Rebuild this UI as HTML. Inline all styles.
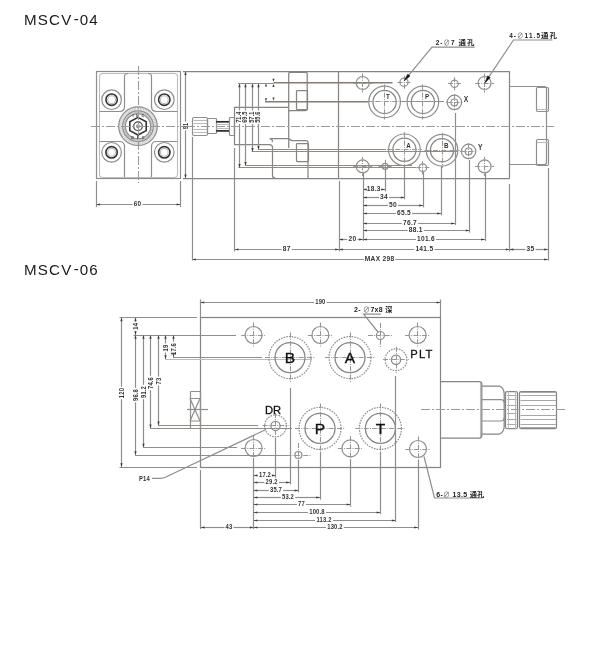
<!DOCTYPE html>
<html lang="zh"><head><meta charset="utf-8"><title>MSCV-04 / MSCV-06</title>
<style>
html,body{margin:0;padding:0;background:#fff}
body{width:600px;height:652px;overflow:hidden}
svg{display:block;position:absolute;left:0;top:0;will-change:transform;opacity:.999}
path,rect,circle{fill:none;stroke:#858585;stroke-width:1.25}
.t{stroke:#8e8e8e;stroke-width:1.2}
.f{stroke:#bcbcbc;stroke-width:1.1}
.g{stroke:#a8a8a8;stroke-width:1}
.c{stroke:#969696;stroke-width:1.1;stroke-dasharray:5 1.2 1 1.2}
.cl{stroke:#9c9c9c;stroke-width:1.1;stroke-dasharray:9 2 2 2}
.b{stroke:#877c75;stroke-width:1.6}
.b2{stroke:#938a84;stroke-width:1.2}
.k{stroke:#333;stroke-width:1.6}
.k2{stroke:#444;stroke-width:1.2}
.kn{stroke:#ececec;stroke-width:6.6}
.kn2{stroke:#b8b8b8;stroke-width:4;stroke-dasharray:.5 1.1}
.kk{stroke:#2a2a2a;stroke-width:1.7}
.ds{stroke:#8c8c8c;stroke-width:1.2;stroke-dasharray:1.6 1.1}
.a{fill:#3a3a3a;stroke:none}
.ah{fill:#111;stroke:#111;stroke-width:.5}
text{font-family:"Liberation Sans","Noto Sans CJK SC",sans-serif;fill:#222}
.ttl{font-size:14.3px;letter-spacing:1.1px;fill:#1a1a1a}
.d{font-size:7px;letter-spacing:.2px;fill:#333;font-weight:bold}
.d2{font-size:6.6px;letter-spacing:.3px;fill:#333;font-weight:bold}
.d3{font-size:7px;letter-spacing:.2px;fill:#333;font-weight:bold}
.dv{font-size:6.8px;font-weight:bold;fill:#333;letter-spacing:.1px}
.tiny{font-size:3.8px;letter-spacing:2.6px;fill:#333;font-weight:bold}
.pl{font-size:7.8px;fill:#333;font-weight:bold}
.pl2{font-size:8.4px;fill:#333;font-weight:bold}
.big{font-size:15.5px;fill:#111;stroke:#111;stroke-width:.35px}
.mid{font-size:11.2px;fill:#111;stroke:#111;stroke-width:.3px}
.lb{font-size:6.4px;font-weight:bold;letter-spacing:1.1px;fill:#222}
.cj{font-size:7.4px;letter-spacing:.9px}
.lb2{font-size:7px;letter-spacing:.3px;fill:#222;font-weight:bold}
.lb2 .cj{font-size:7.2px;letter-spacing:.2px}
.ph{font-weight:normal;fill:#666}
</style></head>
<body>
<svg width="600" height="652" viewBox="0 0 600 652">
<rect x="0" y="0" width="600" height="652" style="fill:#fff;stroke:none"/>
<text class="ttl" transform="translate(24 24.8) scale(1.06 1)">MSCV<tspan dx="1.3" dy="-1.3">-</tspan><tspan dx="-0.3" dy="1.3">04</tspan></text>
<text class="ttl" transform="translate(24 274.9) scale(1.06 1)">MSCV<tspan dx="1.3" dy="-1.3">-</tspan><tspan dx="-0.3" dy="1.3">06</tspan></text>
<rect class="t" x="96.5" y="71.5" width="84.0" height="107.0" rx="0"/>
<rect class="f" x="99.5" y="73.5" width="78.0" height="104.0" rx="3.5"/>
<path class="t" d="M99.5 111.5H119.5Q124.5 111.5 124.5 106.5V76.5Q124.5 73.5 128 73.5M99.5 141.5H119.5Q124.5 141.5 124.5 146.5V177"/>
<path class="t" d="M177.5 111.5H156.5Q151.5 111.5 151.5 106.5V76.5Q151.5 73.5 148 73.5M177.5 141.5H156.5Q151.5 141.5 151.5 146.5V177"/>
<circle class="t" cx="111.6" cy="99.7" r="9.8"/>
<circle class="k" cx="111.6" cy="99.7" r="5.7"/>
<circle class="f" cx="111.6" cy="99.7" r="3.9"/>
<circle class="t" cx="111.6" cy="152.3" r="9.8"/>
<circle class="k" cx="111.6" cy="152.3" r="5.7"/>
<circle class="f" cx="111.6" cy="152.3" r="3.9"/>
<circle class="t" cx="164.3" cy="99.7" r="9.8"/>
<circle class="k" cx="164.3" cy="99.7" r="5.7"/>
<circle class="f" cx="164.3" cy="99.7" r="3.9"/>
<circle class="t" cx="164.3" cy="152.3" r="9.8"/>
<circle class="k" cx="164.3" cy="152.3" r="5.7"/>
<circle class="f" cx="164.3" cy="152.3" r="3.9"/>
<circle class="kn" cx="138.0" cy="126.2" r="16.0"/>
<circle class="kn2" cx="138.0" cy="126.2" r="17.3"/>
<circle class="t" cx="138.0" cy="126.2" r="19.3"/>
<circle class="t" cx="138.0" cy="126.2" r="15.3"/>
<circle class="f" cx="138.0" cy="126.2" r="13.9"/>
<circle class="t" cx="138.0" cy="126.2" r="12.6"/>
<path class="k" d="M138.0 117.4L146.2 121.8V130.6L138.0 135.0L129.8 130.6V121.8Z"/>
<circle class="k2" cx="138.0" cy="126.2" r="4.3"/>
<circle class="t" cx="138.0" cy="126.2" r="1.4"/>
<text class="tiny" transform="translate(139.60 116.60)" text-anchor="middle">INC</text>
<text class="tiny" transform="translate(139.20 139.10)" text-anchor="middle">DEC</text>
<path class="cl" d="M91.0 126.5L185.0 126.5"/>
<path class="cl" d="M138.5 66.0L138.5 183.0"/>
<path class="t" d="M96.5 181.0L96.5 207.0"/>
<path class="t" d="M180.5 181.0L180.5 207.0"/>
<path class="t" d="M96.2 204.5L132.6 204.5"/>
<path class="t" d="M142.4 204.5L180.4 204.5"/>
<path class="a" d="M96.2 204.5L100.0 203.4L100.0 205.6Z"/>
<path class="a" d="M180.4 204.5L176.6 205.6L176.6 203.4Z"/>
<text class="d" transform="translate(137.50 206.21) scale(0.92 1)" text-anchor="middle">60</text>
<path class="t" d="M185.5 71.2L185.5 121.7"/>
<path class="t" d="M185.5 130.3L185.5 178.2"/>
<path class="a" d="M185.5 71.2L186.6 75.0L184.4 75.0Z"/>
<path class="a" d="M185.5 178.2L184.4 174.4L186.6 174.4Z"/>
<text class="dv" transform="translate(187.73 126.00) rotate(-90) scale(0.83 1)" text-anchor="middle">91</text>
<path class="l" d="M183.0 71.5L509.7 71.5"/>
<path class="l" d="M183.0 178.5L509.7 178.5"/>
<rect class="t" x="192.5" y="117.5" width="15.0" height="18.0" rx="1.5"/>
<path class="f" d="M193.5 120.5L207.0 120.5"/>
<path class="f" d="M193.5 123.5L207.0 123.5"/>
<path class="f" d="M193.5 129.5L207.0 129.5"/>
<path class="f" d="M193.5 132.5L207.0 132.5"/>
<rect class="t" x="207.5" y="118.5" width="9.0" height="15.0" rx="0.8"/>
<path class="kk" d="M216.2 121.8L229.2 121.8"/>
<path class="kk" d="M216.2 130.9L229.2 130.9"/>
<path class="f" d="M216.2 124.5L229.2 124.5"/>
<path class="f" d="M216.2 128.5L229.2 128.5"/>
<rect class="t" x="229.5" y="117.5" width="5.0" height="18.0" rx="0.8"/>
<path class="l" d="M288.6 107.3H234.5V144.5H269.5Q272.5 144.5 272.5 147.5V175.5Q272.5 178.2 275.5 178.2"/>
<path class="l" d="M288.7 148V73.5Q288.7 72.4 290 72.4H306Q307.2 72.4 307.2 73.5V109Q307.2 110.5 305.5 110.5H290.5Q288.7 110.5 288.7 112"/>
<rect class="l" x="296.5" y="90.5" width="11.0" height="19.0" rx="0.8"/>
<path class="l" d="M272.5 142Q272.5 138.5 269.5 138.5H288.5Q290.5 140.5 292.5 140.5H306Q308 140.5 308 142.5V178.2"/>
<rect class="l" x="296.5" y="143.5" width="12.0" height="18.0" rx="0.8"/>
<path class="l" d="M338.5 71.2L338.5 178.2"/>
<path class="l" d="M509.5 71.2L509.5 178.2"/>
<path class="t" d="M509.7 86.5H544.5Q546.5 86.5 546.5 88.5V162.5Q546.5 164.5 544.5 164.5H509.7"/>
<rect class="t" x="536.5" y="87.5" width="12.0" height="24.0" rx="1.2"/>
<path class="f" d="M536.8 109.5L548.6 109.5"/>
<rect class="t" x="536.5" y="139.5" width="12.0" height="26.0" rx="1.2"/>
<path class="f" d="M536.8 142.5L548.6 142.5"/>
<path class="cl" d="M186.0 126.5L554.0 126.5"/>
<path class="b" d="M273.4 82.7L392.5 82.7"/>
<path class="b" d="M265.0 101.7L368.0 101.7"/>
<path class="b2" d="M400.0 101.5L444.0 101.5"/>
<path class="b2" d="M258.6 149.5L386.0 149.5"/>
<path class="b2" d="M251.8 151.5L457.0 151.5"/>
<path class="b2" d="M245.8 165.5L412.0 165.5"/>
<path class="b2" d="M238.3 167.5L416.0 167.5"/>
<path class="t" d="M238.0 83.5L273.4 83.5"/>
<path class="t" d="M239.5 83.4L239.5 110.4"/>
<path class="t" d="M239.5 124.0L239.5 167.9"/>
<path class="a" d="M239.5 83.4L240.6 87.2L238.4 87.2Z"/>
<path class="a" d="M239.5 167.9L238.4 164.1L240.6 164.1Z"/>
<text class="dv" transform="translate(241.13 117.20) rotate(-90) scale(0.83 1)" text-anchor="middle">71.4</text>
<path class="t" d="M245.5 83.4L245.5 110.4"/>
<path class="t" d="M245.5 124.0L245.5 165.9"/>
<path class="a" d="M245.5 83.4L246.6 87.2L244.4 87.2Z"/>
<path class="a" d="M245.5 165.9L244.4 162.1L246.6 162.1Z"/>
<text class="dv" transform="translate(247.13 117.20) rotate(-90) scale(0.83 1)" text-anchor="middle">69.5</text>
<path class="t" d="M252.5 83.4L252.5 110.4"/>
<path class="t" d="M252.5 124.0L252.5 151.9"/>
<path class="a" d="M252.5 83.4L253.6 87.2L251.4 87.2Z"/>
<path class="a" d="M252.5 151.9L251.4 148.1L253.6 148.1Z"/>
<text class="dv" transform="translate(254.13 117.20) rotate(-90) scale(0.83 1)" text-anchor="middle">57.1</text>
<path class="t" d="M258.5 83.4L258.5 110.4"/>
<path class="t" d="M258.5 124.0L258.5 149.7"/>
<path class="a" d="M258.5 83.4L259.6 87.2L257.4 87.2Z"/>
<path class="a" d="M258.5 149.7L257.4 145.9L259.6 145.9Z"/>
<text class="dv" transform="translate(260.13 117.20) rotate(-90) scale(0.83 1)" text-anchor="middle">55.6</text>
<path class="a" d="M266.0 83.6L267.1 86.6L264.9 86.6Z"/>
<path class="a" d="M273.5 83.9L274.6 86.9L272.4 86.9Z"/>
<path class="a" d="M266.0 101.2L264.9 98.2L267.1 98.2Z"/>
<path class="a" d="M273.5 100.6L272.4 97.6L274.6 97.6Z"/>
<path class="a" d="M273.5 81.8L272.4 78.8L274.6 78.8Z"/>
<circle class="t" cx="362.7" cy="83.0" r="6.5"/>
<path class="c" d="M353.2 83.5L372.2 83.5"/>
<path class="c" d="M362.5 73.5L362.5 92.5"/>
<circle class="t" cx="484.6" cy="83.0" r="6.5"/>
<path class="c" d="M475.1 83.5L494.1 83.5"/>
<path class="c" d="M484.5 73.5L484.5 92.5"/>
<circle class="t" cx="362.7" cy="166.4" r="6.5"/>
<path class="c" d="M353.2 166.5L372.2 166.5"/>
<path class="c" d="M362.5 156.9L362.5 175.9"/>
<circle class="t" cx="484.6" cy="166.4" r="6.5"/>
<path class="c" d="M475.1 166.5L494.1 166.5"/>
<path class="c" d="M484.5 156.9L484.5 175.9"/>
<circle class="t" cx="384.6" cy="101.9" r="15.8"/>
<circle class="l" cx="384.6" cy="101.9" r="11.6"/>
<path class="c" d="M367.1 101.5L402.1 101.5"/>
<path class="c" d="M384.5 84.4L384.5 119.4"/>
<text class="pl" transform="translate(387.80 99.20) scale(0.8 1)" text-anchor="middle">T</text>
<circle class="t" cx="422.9" cy="101.9" r="15.8"/>
<circle class="l" cx="422.9" cy="101.9" r="11.6"/>
<path class="c" d="M405.4 101.5L440.4 101.5"/>
<path class="c" d="M422.5 84.4L422.5 119.4"/>
<text class="pl" transform="translate(427.10 99.20) scale(0.8 1)" text-anchor="middle">P</text>
<circle class="t" cx="404.4" cy="149.8" r="15.8"/>
<circle class="l" cx="404.4" cy="149.8" r="11.6"/>
<path class="c" d="M386.9 149.5L421.9 149.5"/>
<path class="c" d="M404.5 132.3L404.5 167.3"/>
<text class="pl" transform="translate(408.60 147.90) scale(0.8 1)" text-anchor="middle">A</text>
<circle class="t" cx="442.0" cy="150.2" r="15.8"/>
<circle class="l" cx="442.0" cy="150.2" r="11.6"/>
<path class="c" d="M424.5 150.5L459.5 150.5"/>
<path class="c" d="M442.5 132.7L442.5 167.7"/>
<text class="pl" transform="translate(446.20 148.30) scale(0.8 1)" text-anchor="middle">B</text>
<circle class="t" cx="454.4" cy="102.4" r="7.2"/>
<circle class="t" cx="454.4" cy="102.4" r="3.4"/>
<path class="c" d="M445.9 102.5L462.9 102.5"/>
<path class="c" d="M454.5 93.9L454.5 110.9"/>
<text class="pl2" transform="translate(466.00 101.80) scale(0.8 1)" text-anchor="middle">X</text>
<circle class="t" cx="468.6" cy="151.4" r="7.2"/>
<circle class="t" cx="468.6" cy="151.4" r="3.4"/>
<path class="c" d="M460.1 151.5L477.1 151.5"/>
<path class="c" d="M468.5 142.9L468.5 159.9"/>
<text class="pl2" transform="translate(480.20 149.80) scale(0.8 1)" text-anchor="middle">Y</text>
<circle class="t" cx="404.0" cy="82.2" r="4.1"/>
<path class="c" d="M397.5 82.5L410.5 82.5"/>
<path class="c" d="M404.5 75.7L404.5 88.7"/>
<circle class="t" cx="454.5" cy="83.8" r="3.7"/>
<path class="c" d="M448.0 83.5L461.0 83.5"/>
<path class="c" d="M454.5 77.3L454.5 90.3"/>
<circle class="t" cx="385.1" cy="166.3" r="3.0"/>
<path class="c" d="M378.6 166.5L391.6 166.5"/>
<path class="c" d="M385.5 159.8L385.5 172.8"/>
<circle class="t" cx="422.8" cy="167.7" r="3.8"/>
<path class="c" d="M416.3 167.5L429.3 167.5"/>
<path class="c" d="M422.5 161.2L422.5 174.2"/>
<path class="t" d="M363.5 172.0L363.5 241.0"/>
<path class="t" d="M385.5 170.0L385.5 191.4"/>
<path class="t" d="M363.0 189.5L365.7 189.5"/>
<path class="t" d="M381.9 189.5L385.0 189.5"/>
<path class="a" d="M363.0 189.5L366.8 188.4L366.8 190.6Z"/>
<path class="a" d="M385.0 189.5L381.2 190.6L381.2 188.4Z"/>
<text class="d2" transform="translate(373.80 191.06)" text-anchor="middle">18.3</text>
<path class="t" d="M404.5 165.0L404.5 199.2"/>
<path class="t" d="M363.0 197.5L378.9 197.5"/>
<path class="t" d="M389.1 197.5L404.6 197.5"/>
<path class="a" d="M363.0 197.5L366.8 196.4L366.8 198.6Z"/>
<path class="a" d="M404.6 197.5L400.8 198.6L400.8 196.4Z"/>
<text class="d2" transform="translate(384.00 199.06)" text-anchor="middle">34</text>
<path class="t" d="M423.5 172.0L423.5 207.4"/>
<path class="t" d="M363.0 205.5L387.9 205.5"/>
<path class="t" d="M398.1 205.5L423.0 205.5"/>
<path class="a" d="M363.0 205.5L366.8 204.4L366.8 206.6Z"/>
<path class="a" d="M423.0 205.5L419.2 206.6L419.2 204.4Z"/>
<text class="d2" transform="translate(393.00 207.06)" text-anchor="middle">50</text>
<path class="t" d="M441.5 166.0L441.5 215.4"/>
<path class="t" d="M363.0 213.5L395.9 213.5"/>
<path class="t" d="M412.1 213.5L441.0 213.5"/>
<path class="a" d="M363.0 213.5L366.8 212.4L366.8 214.6Z"/>
<path class="a" d="M441.0 213.5L437.2 214.6L437.2 212.4Z"/>
<text class="d2" transform="translate(404.00 215.06)" text-anchor="middle">65.5</text>
<path class="t" d="M455.5 113.0L455.5 225.0"/>
<path class="t" d="M363.0 223.5L401.9 223.5"/>
<path class="t" d="M418.1 223.5L455.0 223.5"/>
<path class="a" d="M363.0 223.5L366.8 222.4L366.8 224.6Z"/>
<path class="a" d="M455.0 223.5L451.2 224.6L451.2 222.4Z"/>
<text class="d2" transform="translate(410.00 225.06)" text-anchor="middle">76.7</text>
<path class="t" d="M469.5 160.0L469.5 232.6"/>
<path class="t" d="M363.0 230.5L407.7 230.5"/>
<path class="t" d="M423.9 230.5L469.6 230.5"/>
<path class="a" d="M363.0 230.5L366.8 229.4L366.8 231.6Z"/>
<path class="a" d="M469.6 230.5L465.8 231.6L465.8 229.4Z"/>
<text class="d2" transform="translate(415.80 232.06)" text-anchor="middle">88.1</text>
<path class="t" d="M485.5 173.0L485.5 241.0"/>
<path class="t" d="M363.0 239.5L415.9 239.5"/>
<path class="t" d="M436.1 239.5L485.0 239.5"/>
<path class="a" d="M363.0 239.5L366.8 238.4L366.8 240.6Z"/>
<path class="a" d="M485.0 239.5L481.2 240.6L481.2 238.4Z"/>
<text class="d2" transform="translate(426.00 241.06)" text-anchor="middle">101.6</text>
<path class="t" d="M339.5 181.0L339.5 251.5"/>
<path class="t" d="M339.0 239.5L347.3 239.5"/>
<path class="t" d="M357.5 239.5L363.0 239.5"/>
<path class="a" d="M339.0 239.5L342.8 238.4L342.8 240.6Z"/>
<path class="a" d="M363.0 239.5L359.2 240.6L359.2 238.4Z"/>
<text class="d2" transform="translate(352.40 241.06)" text-anchor="middle">20</text>
<path class="t" d="M339.0 249.5L414.3 249.5"/>
<path class="t" d="M434.5 249.5L509.6 249.5"/>
<path class="a" d="M339.0 249.5L342.8 248.4L342.8 250.6Z"/>
<path class="a" d="M509.6 249.5L505.8 250.6L505.8 248.4Z"/>
<text class="d2" transform="translate(424.40 251.06)" text-anchor="middle">141.5</text>
<path class="t" d="M509.6 249.5L525.3 249.5"/>
<path class="t" d="M535.5 249.5L548.0 249.5"/>
<path class="a" d="M509.6 249.5L513.4 248.4L513.4 250.6Z"/>
<path class="a" d="M548.0 249.5L544.2 250.6L544.2 248.4Z"/>
<text class="d2" transform="translate(530.40 251.06)" text-anchor="middle">35</text>
<path class="t" d="M234.7 249.5L281.6 249.5"/>
<path class="t" d="M291.8 249.5L339.0 249.5"/>
<path class="a" d="M234.7 249.5L238.5 248.4L238.5 250.6Z"/>
<path class="a" d="M339.0 249.5L335.2 250.6L335.2 248.4Z"/>
<text class="d2" transform="translate(286.70 251.06)" text-anchor="middle">87</text>
<path class="t" d="M192.0 259.5L363.9 259.5"/>
<path class="t" d="M395.3 259.5L548.0 259.5"/>
<path class="a" d="M192.0 259.5L195.8 258.4L195.8 260.6Z"/>
<path class="a" d="M548.0 259.5L544.2 260.6L544.2 258.4Z"/>
<text class="d2" transform="translate(379.60 261.06)" text-anchor="middle">MAX 298</text>
<path class="t" d="M234.5 148.0L234.5 251.5"/>
<path class="t" d="M192.5 137.0L192.5 260.5"/>
<path class="t" d="M509.5 184.0L509.5 251.5"/>
<path class="t" d="M548.5 168.0L548.5 260.5"/>
<path class="t" d="M474.7 47.2H432L404.3 80.7"/>
<path class="ah" d="M404.3 80.7L410.0 76.1L407.7 74.2Z"/>
<text class="lb" transform="translate(435.70 44.60)" text-anchor="start">2-<tspan class="ph">∅</tspan>7 <tspan class="cj">通孔</tspan></text>
<path class="t" d="M552.5 40H513.5L485 82.7"/>
<path class="ah" d="M485.0 82.7L490.2 77.5L487.7 75.9Z"/>
<text class="lb" transform="translate(509.20 38.00)" text-anchor="start">4-<tspan class="ph">∅</tspan>11.5<tspan class="cj">通孔</tspan></text>
<rect class="l" x="200.5" y="317.5" width="240.0" height="150.0" rx="0"/>
<path class="t" d="M200.5 299.5L200.5 317.4"/>
<path class="t" d="M440.5 299.5L440.5 317.4"/>
<path class="t" d="M200.4 302.5L314.1 302.5"/>
<path class="t" d="M326.7 302.5L440.5 302.5"/>
<path class="a" d="M200.4 302.5L204.2 301.4L204.2 303.6Z"/>
<path class="a" d="M440.5 302.5L436.7 303.6L436.7 301.4Z"/>
<text class="d3" transform="translate(320.40 304.21) scale(0.84 1)" text-anchor="middle">190</text>
<path class="t" d="M119.5 317.5L197.0 317.5"/>
<path class="t" d="M119.5 467.5L197.0 467.5"/>
<path class="t" d="M121.5 317.4L121.5 386.7"/>
<path class="t" d="M121.5 399.3L121.5 467.0"/>
<path class="a" d="M121.5 317.4L122.6 321.2L120.4 321.2Z"/>
<path class="a" d="M121.5 467.0L120.4 463.2L122.6 463.2Z"/>
<text class="d3" transform="translate(123.81 393.00) rotate(-90) scale(0.84 1)" text-anchor="middle">120</text>
<path class="t" d="M135.5 317.4L135.5 321.8"/>
<path class="t" d="M135.5 330.8L135.5 335.0"/>
<path class="a" d="M135.5 317.4L136.6 321.2L134.4 321.2Z"/>
<path class="a" d="M135.5 335.0L134.4 331.2L136.6 331.2Z"/>
<text class="d3" transform="translate(137.81 326.30) rotate(-90) scale(0.84 1)" text-anchor="middle">14</text>
<path class="t" d="M133.5 335.5L236.0 335.5"/>
<path class="t" d="M135.5 335.0L135.5 387.8"/>
<path class="t" d="M135.5 402.2L135.5 455.0"/>
<path class="a" d="M135.5 335.0L136.6 338.8L134.4 338.8Z"/>
<path class="a" d="M135.5 455.0L134.4 451.2L136.6 451.2Z"/>
<text class="d3" transform="translate(137.81 395.00) rotate(-90) scale(0.84 1)" text-anchor="middle">96.8</text>
<path class="t" d="M143.5 335.0L143.5 384.8"/>
<path class="t" d="M143.5 399.2L143.5 447.6"/>
<path class="a" d="M143.5 335.0L144.6 338.8L142.4 338.8Z"/>
<path class="a" d="M143.5 447.6L142.4 443.8L144.6 443.8Z"/>
<text class="d3" transform="translate(145.81 392.00) rotate(-90) scale(0.84 1)" text-anchor="middle">91.2</text>
<path class="t" d="M150.5 335.0L150.5 375.8"/>
<path class="t" d="M150.5 390.2L150.5 428.2"/>
<path class="a" d="M150.5 335.0L151.6 338.8L149.4 338.8Z"/>
<path class="a" d="M150.5 428.2L149.4 424.4L151.6 424.4Z"/>
<text class="d3" transform="translate(152.81 383.00) rotate(-90) scale(0.84 1)" text-anchor="middle">74.6</text>
<path class="t" d="M158.5 335.0L158.5 376.5"/>
<path class="t" d="M158.5 385.5L158.5 425.4"/>
<path class="a" d="M158.5 335.0L159.6 338.8L157.4 338.8Z"/>
<path class="a" d="M158.5 425.4L157.4 421.6L159.6 421.6Z"/>
<text class="d3" transform="translate(160.81 381.00) rotate(-90) scale(0.84 1)" text-anchor="middle">73</text>
<path class="t" d="M165.5 335.0L165.5 343.5"/>
<path class="t" d="M165.5 352.5L165.5 359.0"/>
<path class="a" d="M165.5 335.0L166.6 338.8L164.4 338.8Z"/>
<path class="a" d="M165.5 359.0L164.4 355.2L166.6 355.2Z"/>
<text class="d3" transform="translate(167.81 348.00) rotate(-90) scale(0.84 1)" text-anchor="middle">19</text>
<path class="t" d="M173.5 335.0L173.5 341.8"/>
<path class="t" d="M173.5 356.2L173.5 357.2"/>
<path class="a" d="M173.5 335.0L174.6 338.8L172.4 338.8Z"/>
<path class="a" d="M173.5 357.2L172.4 353.4L174.6 353.4Z"/>
<text class="d3" transform="translate(175.81 349.00) rotate(-90) scale(0.84 1)" text-anchor="middle">17.6</text>
<path class="t" d="M173.0 357.5L262.0 357.5"/>
<path class="f" d="M165.0 359.5L312.0 359.5"/>
<path class="b2" d="M158.0 425.5L258.0 425.5"/>
<path class="t" d="M150.2 428.5L292.0 428.5"/>
<path class="t" d="M143.0 447.5L237.0 447.5"/>
<path class="t" d="M135.0 455.5L290.0 455.5"/>
<rect class="t" x="190.5" y="391.5" width="10.0" height="37.0" rx="0.5"/>
<path class="t" d="M190 398.5L200 421M200 398.5L190 421M190 398.5H200.4M190 421H200.4"/>
<path class="t" d="M187.0 409.5L208.0 409.5"/>
<circle class="t" cx="253.6" cy="335.0" r="8.5"/>
<path class="c" d="M241.1 335.5L266.1 335.5"/>
<path class="c" d="M253.5 322.5L253.5 347.5"/>
<circle class="t" cx="320.4" cy="335.0" r="8.5"/>
<path class="c" d="M307.9 335.5L332.9 335.5"/>
<path class="c" d="M320.5 322.5L320.5 347.5"/>
<circle class="t" cx="417.6" cy="335.0" r="8.5"/>
<path class="c" d="M405.1 335.5L430.1 335.5"/>
<path class="c" d="M417.5 322.5L417.5 347.5"/>
<circle class="t" cx="253.6" cy="448.0" r="8.5"/>
<path class="c" d="M241.1 448.5L266.1 448.5"/>
<path class="c" d="M253.5 435.5L253.5 460.5"/>
<circle class="t" cx="350.4" cy="448.4" r="8.5"/>
<path class="c" d="M337.9 448.5L362.9 448.5"/>
<path class="c" d="M350.5 435.9L350.5 460.9"/>
<circle class="t" cx="418.0" cy="449.0" r="8.5"/>
<path class="c" d="M405.5 449.5L430.5 449.5"/>
<path class="c" d="M418.5 436.5L418.5 461.5"/>
<circle class="ds" cx="290.0" cy="357.6" r="21.0"/>
<circle class="l" cx="290.0" cy="357.6" r="15.0"/>
<path class="c" d="M265.0 357.5L315.0 357.5"/>
<path class="c" d="M290.5 332.6L290.5 382.6"/>
<text class="big" transform="translate(290.00 363.20)" text-anchor="middle">B</text>
<circle class="ds" cx="350.0" cy="357.6" r="21.0"/>
<circle class="l" cx="350.0" cy="357.6" r="15.0"/>
<path class="c" d="M325.0 357.5L375.0 357.5"/>
<path class="c" d="M350.5 332.6L350.5 382.6"/>
<text class="big" transform="translate(350.00 363.20)" text-anchor="middle">A</text>
<circle class="ds" cx="320.0" cy="428.4" r="21.0"/>
<circle class="l" cx="320.0" cy="428.4" r="15.0"/>
<path class="c" d="M295.0 428.5L345.0 428.5"/>
<path class="c" d="M320.5 403.4L320.5 453.4"/>
<text class="big" transform="translate(320.00 433.50)" text-anchor="middle">P</text>
<circle class="ds" cx="380.4" cy="428.4" r="21.0"/>
<circle class="l" cx="380.4" cy="428.4" r="15.0"/>
<path class="c" d="M355.4 428.5L405.4 428.5"/>
<path class="c" d="M380.5 403.4L380.5 453.4"/>
<text class="big" transform="translate(380.40 433.50)" text-anchor="middle">T</text>
<circle class="ds" cx="396.0" cy="359.7" r="10.9"/>
<circle class="l" cx="396.0" cy="359.7" r="4.6"/>
<path class="c" d="M383.0 359.5L409.0 359.5"/>
<path class="c" d="M396.5 346.7L396.5 372.7"/>
<circle class="ds" cx="275.5" cy="425.9" r="10.9"/>
<circle class="l" cx="275.5" cy="425.9" r="4.6"/>
<path class="c" d="M262.5 425.5L288.5 425.5"/>
<path class="c" d="M275.5 412.9L275.5 438.9"/>
<circle class="t" cx="380.4" cy="335.5" r="4.0"/>
<path class="c" d="M367.9 335.5L392.9 335.5"/>
<path class="c" d="M380.5 323.0L380.5 348.0"/>
<circle class="t" cx="298.4" cy="455.0" r="3.5"/>
<path class="c" d="M286.4 455.5L310.4 455.5"/>
<path class="c" d="M298.5 443.0L298.5 467.0"/>
<text class="mid" transform="translate(273.00 414.00)" text-anchor="middle">DR</text>
<text class="mid" transform="translate(422.00 358.00)" text-anchor="middle" letter-spacing="1.2">PLT</text>
<path class="l" d="M440.5 381.5H479Q481.8 381.5 481.8 384V435.7Q481.8 438.2 479 438.2H440.5"/>
<path class="f" d="M480.5 383.0L480.5 437.0"/>
<path class="l" d="M481.8 386H499.5Q504.2 388 504.2 394V426Q504.2 432 499.5 434H481.8"/>
<path class="t" d="M481.8 399.7H501Q504.2 399.7 504.2 403M481.8 421H501Q504.2 421 504.2 417.5"/>
<rect class="l" x="505.5" y="391.5" width="12.0" height="37.0" rx="1.5"/>
<path class="g" d="M507.0 395.5L516.5 395.5"/>
<path class="g" d="M507.0 399.5L516.5 399.5"/>
<path class="g" d="M507.0 405.5L516.5 405.5"/>
<path class="g" d="M507.0 413.5L516.5 413.5"/>
<path class="g" d="M507.0 419.5L516.5 419.5"/>
<path class="g" d="M507.0 424.5L516.5 424.5"/>
<path class="f" d="M508.5 391.5L508.5 428.8"/>
<path class="f" d="M515.5 391.5L515.5 428.8"/>
<rect class="l" x="519.5" y="391.5" width="37.0" height="37.0" rx="1.5"/>
<path class="g" d="M520.5 392.5L556.3 392.5"/>
<path class="g" d="M520.5 395.5L556.3 395.5"/>
<path class="g" d="M520.5 400.5L556.3 400.5"/>
<path class="g" d="M520.5 405.5L556.3 405.5"/>
<path class="g" d="M520.5 415.5L556.3 415.5"/>
<path class="g" d="M520.5 419.5L556.3 419.5"/>
<path class="g" d="M520.5 424.5L556.3 424.5"/>
<path class="g" d="M520.5 427.5L556.3 427.5"/>
<path class="cl" d="M421.0 409.5L565.0 409.5"/>
<path class="t" d="M253.5 458.0L253.5 529.0"/>
<path class="t" d="M200.5 470.0L200.5 529.0"/>
<path class="t" d="M275.5 438.0L275.5 477.6"/>
<path class="t" d="M253.6 475.5L257.8 475.5"/>
<path class="t" d="M272.2 475.5L275.6 475.5"/>
<path class="a" d="M253.6 475.5L257.4 474.4L257.4 476.6Z"/>
<path class="a" d="M275.6 475.5L271.8 476.6L271.8 474.4Z"/>
<text class="d3" transform="translate(265.00 477.21) scale(0.84 1)" text-anchor="middle">17.2</text>
<path class="t" d="M290.5 388.0L290.5 484.4"/>
<path class="t" d="M253.6 482.5L264.4 482.5"/>
<path class="t" d="M278.8 482.5L290.0 482.5"/>
<path class="a" d="M253.6 482.5L257.4 481.4L257.4 483.6Z"/>
<path class="a" d="M290.0 482.5L286.2 483.6L286.2 481.4Z"/>
<text class="d3" transform="translate(271.60 484.21) scale(0.84 1)" text-anchor="middle">29.2</text>
<path class="t" d="M298.5 460.0L298.5 492.4"/>
<path class="t" d="M253.6 490.5L268.8 490.5"/>
<path class="t" d="M283.2 490.5L298.4 490.5"/>
<path class="a" d="M253.6 490.5L257.4 489.4L257.4 491.6Z"/>
<path class="a" d="M298.4 490.5L294.6 491.6L294.6 489.4Z"/>
<text class="d3" transform="translate(276.00 492.21) scale(0.84 1)" text-anchor="middle">35.7</text>
<path class="t" d="M320.5 452.0L320.5 499.6"/>
<path class="t" d="M253.6 497.5L280.8 497.5"/>
<path class="t" d="M295.2 497.5L320.0 497.5"/>
<path class="a" d="M253.6 497.5L257.4 496.4L257.4 498.6Z"/>
<path class="a" d="M320.0 497.5L316.2 498.6L316.2 496.4Z"/>
<text class="d3" transform="translate(288.00 499.21) scale(0.84 1)" text-anchor="middle">53.2</text>
<path class="t" d="M350.5 460.0L350.5 506.6"/>
<path class="t" d="M253.6 504.5L297.0 504.5"/>
<path class="t" d="M306.0 504.5L350.4 504.5"/>
<path class="a" d="M253.6 504.5L257.4 503.4L257.4 505.6Z"/>
<path class="a" d="M350.4 504.5L346.6 505.6L346.6 503.4Z"/>
<text class="d3" transform="translate(301.50 506.21) scale(0.84 1)" text-anchor="middle">77</text>
<path class="t" d="M380.5 452.0L380.5 514.2"/>
<path class="t" d="M253.6 512.5L308.1 512.5"/>
<path class="t" d="M325.9 512.5L380.4 512.5"/>
<path class="a" d="M253.6 512.5L257.4 511.4L257.4 513.6Z"/>
<path class="a" d="M380.4 512.5L376.6 513.6L376.6 511.4Z"/>
<text class="d3" transform="translate(317.00 514.21) scale(0.84 1)" text-anchor="middle">100.8</text>
<path class="t" d="M395.5 376.0L395.5 522.0"/>
<path class="t" d="M253.6 520.5L315.1 520.5"/>
<path class="t" d="M332.9 520.5L395.6 520.5"/>
<path class="a" d="M253.6 520.5L257.4 519.4L257.4 521.6Z"/>
<path class="a" d="M395.6 520.5L391.8 521.6L391.8 519.4Z"/>
<text class="d3" transform="translate(324.00 522.21) scale(0.84 1)" text-anchor="middle">113.2</text>
<path class="t" d="M418.5 460.0L418.5 529.4"/>
<path class="t" d="M253.6 527.5L326.1 527.5"/>
<path class="t" d="M343.9 527.5L418.0 527.5"/>
<path class="a" d="M253.6 527.5L257.4 526.4L257.4 528.6Z"/>
<path class="a" d="M418.0 527.5L414.2 528.6L414.2 526.4Z"/>
<text class="d3" transform="translate(335.00 529.21) scale(0.84 1)" text-anchor="middle">130.2</text>
<path class="t" d="M200.8 527.5L224.5 527.5"/>
<path class="t" d="M233.5 527.5L253.6 527.5"/>
<path class="a" d="M200.8 527.5L204.6 526.4L204.6 528.6Z"/>
<path class="a" d="M253.6 527.5L249.8 528.6L249.8 526.4Z"/>
<text class="d3" transform="translate(229.00 529.21) scale(0.84 1)" text-anchor="middle">43</text>
<path class="t" d="M152 478.4H161Q164 478.4 168 476L266 429.5"/>
<text class="d3" transform="translate(144.50 481.00) scale(0.84 1)" text-anchor="middle">P14</text>
<path class="t" d="M381 314.2H363.6L378 332"/>
<text class="lb2" transform="translate(354.00 312.40)" text-anchor="start">2- <tspan class="ph">∅</tspan>7x8 <tspan class="cj">深</tspan></text>
<path class="t" d="M424 456.5L434.5 498H482.5"/>
<text class="lb2" transform="translate(436.20 496.80)" text-anchor="start">6-<tspan class="ph">∅</tspan> 13.5 <tspan class="cj">通孔</tspan></text>
</svg>
</body></html>
